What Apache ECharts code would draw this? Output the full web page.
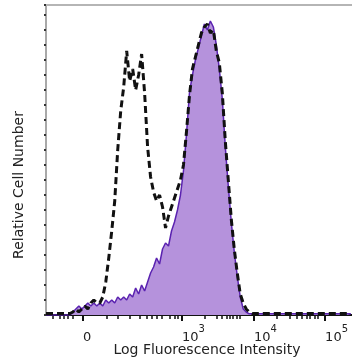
<!DOCTYPE html>
<html><head><meta charset="utf-8">
<script src="https://cdn.jsdelivr.net/npm/echarts@6/dist/echarts.min.js"></script>
<style>html,body{margin:0;padding:0;background:#fff}#c{width:352px;height:361px}</style>
</head><body><div id="c"></div>
<script>
// Bin positions (channel units on a 0-1024 logicle display scale)
const channels = [0,10,20,30,40,50,60,70,80,90,100,110,120,130,140,150,160,170,180,190,200,210,220,230,240,250,260,270,280,290,300,310,320,330,340,350,360,370,380,390,400,410,420,430,440,450,460,470,480,490,500,510,520,530,540,550,560,570,580,590,600,610,620,630,640,650,660,670,680,690,700,710,720,730,740,750,760,770,780,790,800,810,820,830,840,850,860,870,880,890,900,910,920,930,940,950,960,970,980,990,1000,1010,1020];
// Stained sample (purple filled histogram), relative cell number
const stained = [0,0,0,0,0,0,0,0,0,1,2,3,2,3,4,3,4,3,4,3,5,4,5,4,6,5,6,5,7,6,9,7,10,8,11,14,16,19,17,22,24,23,28,31,35,40,48,60,74,80,85,89,93,97,95,98,96,90,82,72,56,43,31,21,13,6,2,1,0.4,0.4,0.4,0.4,0.4,0.4,0.4,0.4,0.4,0.4,0.4,0.4,0.4,0.4,0.4,0.4,0.4,0.4,0.4,0.4,0.4,0.4,0.4,0.4,0.4,0.4,0.4,0.4,0.4,0.4,0.4,0.4,0.4,0.4,0.4];
// Control (black dashed histogram), relative cell number
const control = [0.5,0.5,0.5,0.5,0.5,0.5,0.5,0.5,0.5,1,2,1,2,3,2,4,5,4,4,6,11,19,28,38,55,68,76,88,78,82,75,80,87,74,56,46,41,38,40,36,29,33,36,39,42,45,50,61,73,82,86,90,94,96,97,94,95,88,84,74,58,45,32,22,14,7,4,2,1,0.5,0.5,0.5,0.5,0.5,0.5,0.5,0.5,0.5,0.5,0.5,0.5,0.5,0.5,0.5,0.5,0.5,0.5,0.5,0.5,0.5,0.5,0.5,0.5,0.5,0.5,0.5,0.5,0.5,0.5,0.5,0.5,0.5,0.5];
// Axis ticks
const majorTicks = [124, 455, 696, 934];
const majorLabels = ['0', '10^3', '10^4', '10^5'];
const minorTicks = [23,47,60,74,90,204,241,281,315,338,355,371,388,415,432,442,532,572,589,606,616,626,639,649,773,817,840,857,873,883,900,910];
const xTitle = 'Log Fluorescence Intensity';
const yTitle = 'Relative Cell Number';

const FONT = 'DejaVu Sans';
const chart = echarts.init(document.getElementById('c'));
const fmt = v => {
  const i = majorTicks.indexOf(v);
  if (i < 0) return '';
  const s = majorLabels[i];
  if (s.indexOf('^') < 0) return '{b|' + s + '}';
  const p = s.split('^');
  return '{b|' + p[0] + '}{s|' + p[1] + '}';
};
chart.setOption({
  animation: false,
  backgroundColor: '#fff',
  grid: { left: 46, right: 0, top: 5, bottom: 46, containLabel: false, outerBoundsMode: 'none' },
  xAxis: [
    {
      type: 'value', position: 'bottom', min: 0, max: 1024,
      name: xTitle, nameLocation: 'middle', nameGap: 28, nameMoveOverlap: false,
      nameTextStyle: { fontFamily: FONT, fontSize: 14, color: '#222', padding: [0, 0, 0, 16] },
      axisLine: { show: true, lineStyle: { color: '#111', width: 2 } },
      axisTick: { show: true, customValues: majorTicks, length: 6, lineStyle: { color: '#111', width: 2 } },
      axisLabel: {
        show: true, customValues: majorTicks, formatter: fmt, align: 'left', margin: 9,
        rich: {
          b: { fontFamily: FONT, fontSize: 13, color: '#222', verticalAlign: 'bottom', lineHeight: 20 },
          s: { fontFamily: FONT, fontSize: 10, color: '#222', verticalAlign: 'top', lineHeight: 8 }
        }
      },
      splitLine: { show: false }
    },
    {
      type: 'value', position: 'bottom', min: 0, max: 1024,
      axisLine: { show: false },
      axisTick: { show: true, customValues: minorTicks, length: 4, lineStyle: { color: '#111', width: 1.5 } },
      axisLabel: { show: false }, splitLine: { show: false }
    },
    {
      type: 'value', position: 'top', min: 0, max: 1024,
      axisLine: { show: true, lineStyle: { color: '#b5b5b5', width: 2 } },
      axisTick: { show: false }, axisLabel: { show: false }, splitLine: { show: false }
    }
  ],
  yAxis: {
    type: 'value', min: 0, max: 103.33, interval: 5,
    name: yTitle, nameLocation: 'middle', nameRotate: 90, nameGap: 20, nameMoveOverlap: false,
    nameTextStyle: { fontFamily: FONT, fontSize: 14, color: '#222', padding: [0, 50, 0, 0] },
    axisLine: { show: true, lineStyle: { color: '#a8a8a8', width: 2 } },
    axisTick: { show: true, length: 2, lineStyle: { color: '#333', width: 2 } },
    axisLabel: { show: false }, splitLine: { show: false }
  },
  series: [
    {
      name: 'Stained', type: 'line', xAxisIndex: 0, symbol: 'none',
      data: channels.map((c, i) => [c, stained[i]]),
      lineStyle: { color: '#5a22b0', width: 1.5 },
      areaStyle: { color: '#b592dc', opacity: 1 }
    },
    {
      name: 'Control', type: 'line', xAxisIndex: 0, symbol: 'none',
      data: channels.map((c, i) => [c, control[i]]),
      lineStyle: { color: '#111', width: 3, type: [7, 4] }
    }
  ]
});
</script>
</body></html>
